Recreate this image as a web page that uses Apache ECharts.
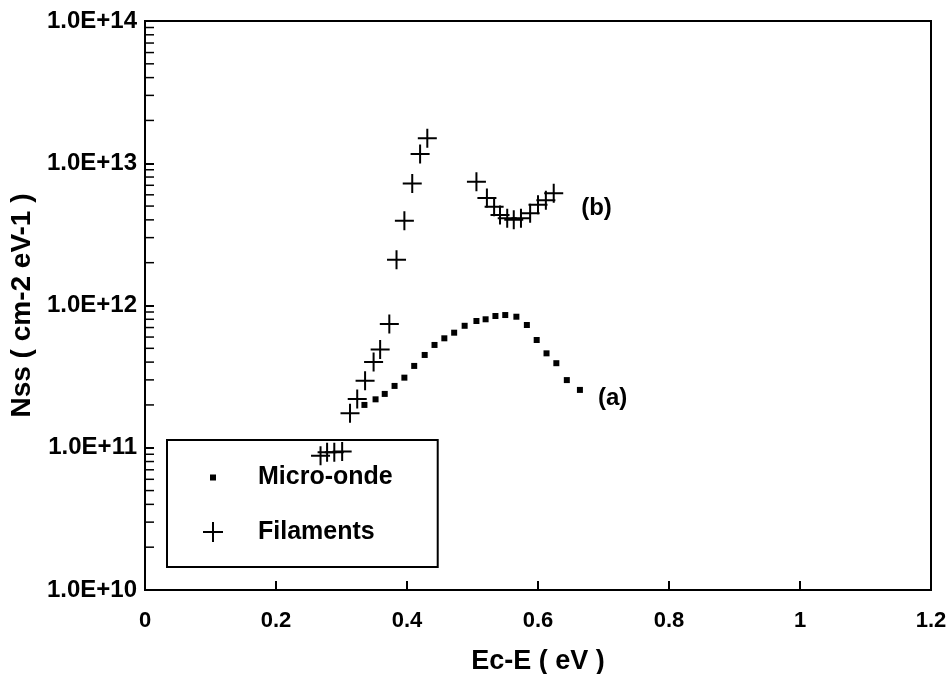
<!DOCTYPE html>
<html>
<head>
<meta charset="utf-8">
<script src="https://cdn.jsdelivr.net/npm/echarts@6/dist/echarts.min.js"></script>
<style>
html,body{margin:0;padding:0;background:#fff;}
#chart{width:948px;height:674px;}
</style>
</head>
<body>
<div id="chart"></div>
<script>
// ---- data ----
var microX = [0.335,0.352,0.366,0.381,0.396,0.411,0.427,0.442,0.457,0.472,0.488,0.506,0.520,0.535,0.550,0.567,0.583,0.598,0.613,0.628,0.644,0.664];
var microY = [2.0e11,2.19e11,2.39e11,2.72e11,3.11e11,3.76e11,4.49e11,5.28e11,5.88e11,6.44e11,7.2e11,7.78e11,8.0e11,8.44e11,8.57e11,8.34e11,7.29e11,5.72e11,4.61e11,3.93e11,2.99e11,2.55e11];

var filX = [0.268,0.278,0.289,0.301,0.313,0.324,0.336,0.349,0.359,0.373,0.384,0.396,0.408,0.420,0.431,0.506,0.522,0.533,0.542,0.553,0.563,0.574,0.588,0.600,0.612,0.624];
var filY = [8.8e10,9.3e10,9.3e10,9.4e10,1.75e11,2.2e11,2.96e11,4.0e11,4.9e11,7.4e11,2.1e12,3.95e12,7.2e12,1.16e13,1.5e13,7.4e12,5.7e12,4.95e12,4.33e12,4.1e12,4.0e12,4.1e12,4.45e12,5.1e12,5.5e12,6.15e12];

var seriesNames = ['Micro-onde', 'Filaments'];
var curveLabels = ['(a)', '(b)'];
var yTickLabels = ['1.0E+10','1.0E+11','1.0E+12','1.0E+13','1.0E+14'];
var yMinorTicks = [];
[1e10,1e11,1e12,1e13].forEach(function(d){ for (var k=2;k<=9;k++) yMinorTicks.push(k*d); });

var FONT = '"Liberation Sans", Arial, sans-serif';
var crossPath = 'path://M0,10H20M10,0V20';

function zip(xs, ys){ return xs.map(function(x,i){ return [x, ys[i]]; }); }

var microData = zip(microX, microY);
microData[microData.length-1] = {value: microData[microData.length-1], label: {show:true, formatter: curveLabels[0], position:'right', distance:15, offset:[0,8], color:'#000', fontFamily:FONT, fontWeight:'bold', fontSize:24}};
var filData = zip(filX, filY);
filData[filData.length-1] = {value: filData[filData.length-1], label: {show:true, formatter: curveLabels[1], position:'right', distance:17, offset:[0,15], color:'#000', fontFamily:FONT, fontWeight:'bold', fontSize:24}};

var chart = echarts.init(document.getElementById('chart'), null, {renderer:'canvas'});
chart.setOption({
  animation: false,
  backgroundColor: '#fff',
  grid: {left:145, right:17, top:21, bottom:84, show:true, borderColor:'#000', borderWidth:2, containLabel:false, outerBoundsMode:'none'},
  xAxis: {
    type:'value', min:0, max:1.2, interval:0.2,
    name:'Ec-E ( eV )', nameLocation:'middle', nameGap:58,
    nameTextStyle:{color:'#000', fontFamily:FONT, fontWeight:'bold', fontSize:27},
    axisLine:{lineStyle:{color:'#000', width:2}},
    axisTick:{inside:true, length:9, lineStyle:{color:'#000', width:2}},
    axisLabel:{color:'#000', fontFamily:FONT, fontWeight:'bold', fontSize:22, margin:20},
    splitLine:{show:false}
  },
  yAxis: {
    type:'log', logBase:10, min:1e10, max:1e14, splitNumber:4,
    name:'Nss ( cm-2 eV-1 )', nameLocation:'middle', nameGap:106, nameRotate:90,
    nameTextStyle:{color:'#000', fontFamily:FONT, fontWeight:'bold', fontSize:28},
    axisLine:{lineStyle:{color:'#000', width:2}},
    axisTick:{inside:true, length:9, lineStyle:{color:'#000', width:2}},
    axisLabel:{color:'#000', fontFamily:FONT, fontWeight:'bold', fontSize:24, margin:8,
      formatter:function(v){ return yTickLabels[Math.round(Math.log10(v))-10]; }},
    splitLine:{show:false}
  },
  legend: {
    orient:'vertical', left:167, top:440,
    padding:[25,45,22,33], itemGap:29,
    itemWidth:52, itemHeight:24,
    borderColor:'#000', borderWidth:2, backgroundColor:'transparent',
    textStyle:{color:'#000', fontFamily:FONT, fontWeight:'bold', fontSize:25},
    data:[
      {name:seriesNames[0], icon:'path://M0,0M52,24M9,9h6v6h-6z'},
      {name:seriesNames[1], icon:'path://M0,0M52,24M2,12h20M12,2v20'}
    ]
  },
  series: [
    {
      name:seriesNames[0], type:'scatter', symbol:'rect', symbolSize:6,
      itemStyle:{color:'#000', opacity:1},
      data: microData, z:3
    },
    {
      name:seriesNames[1], type:'scatter', symbol:crossPath, symbolSize:19,
      itemStyle:{color:'transparent', borderColor:'#000', borderWidth:2, opacity:1},
      data: filData, z:3
    },
    {
      type:'custom', silent:true, z:4,
      data: yMinorTicks.map(function(v){ return [0, v]; }),
      encode:{x:0, y:1},
      renderItem:function(params, api){
        var p = api.coord([api.value(0), api.value(1)]);
        return {type:'line', shape:{x1:p[0], y1:p[1], x2:p[0]+9, y2:p[1]}, style:{stroke:'#000', lineWidth:1.5}};
      }
    }
  ]
});
</script>
</body>
</html>
